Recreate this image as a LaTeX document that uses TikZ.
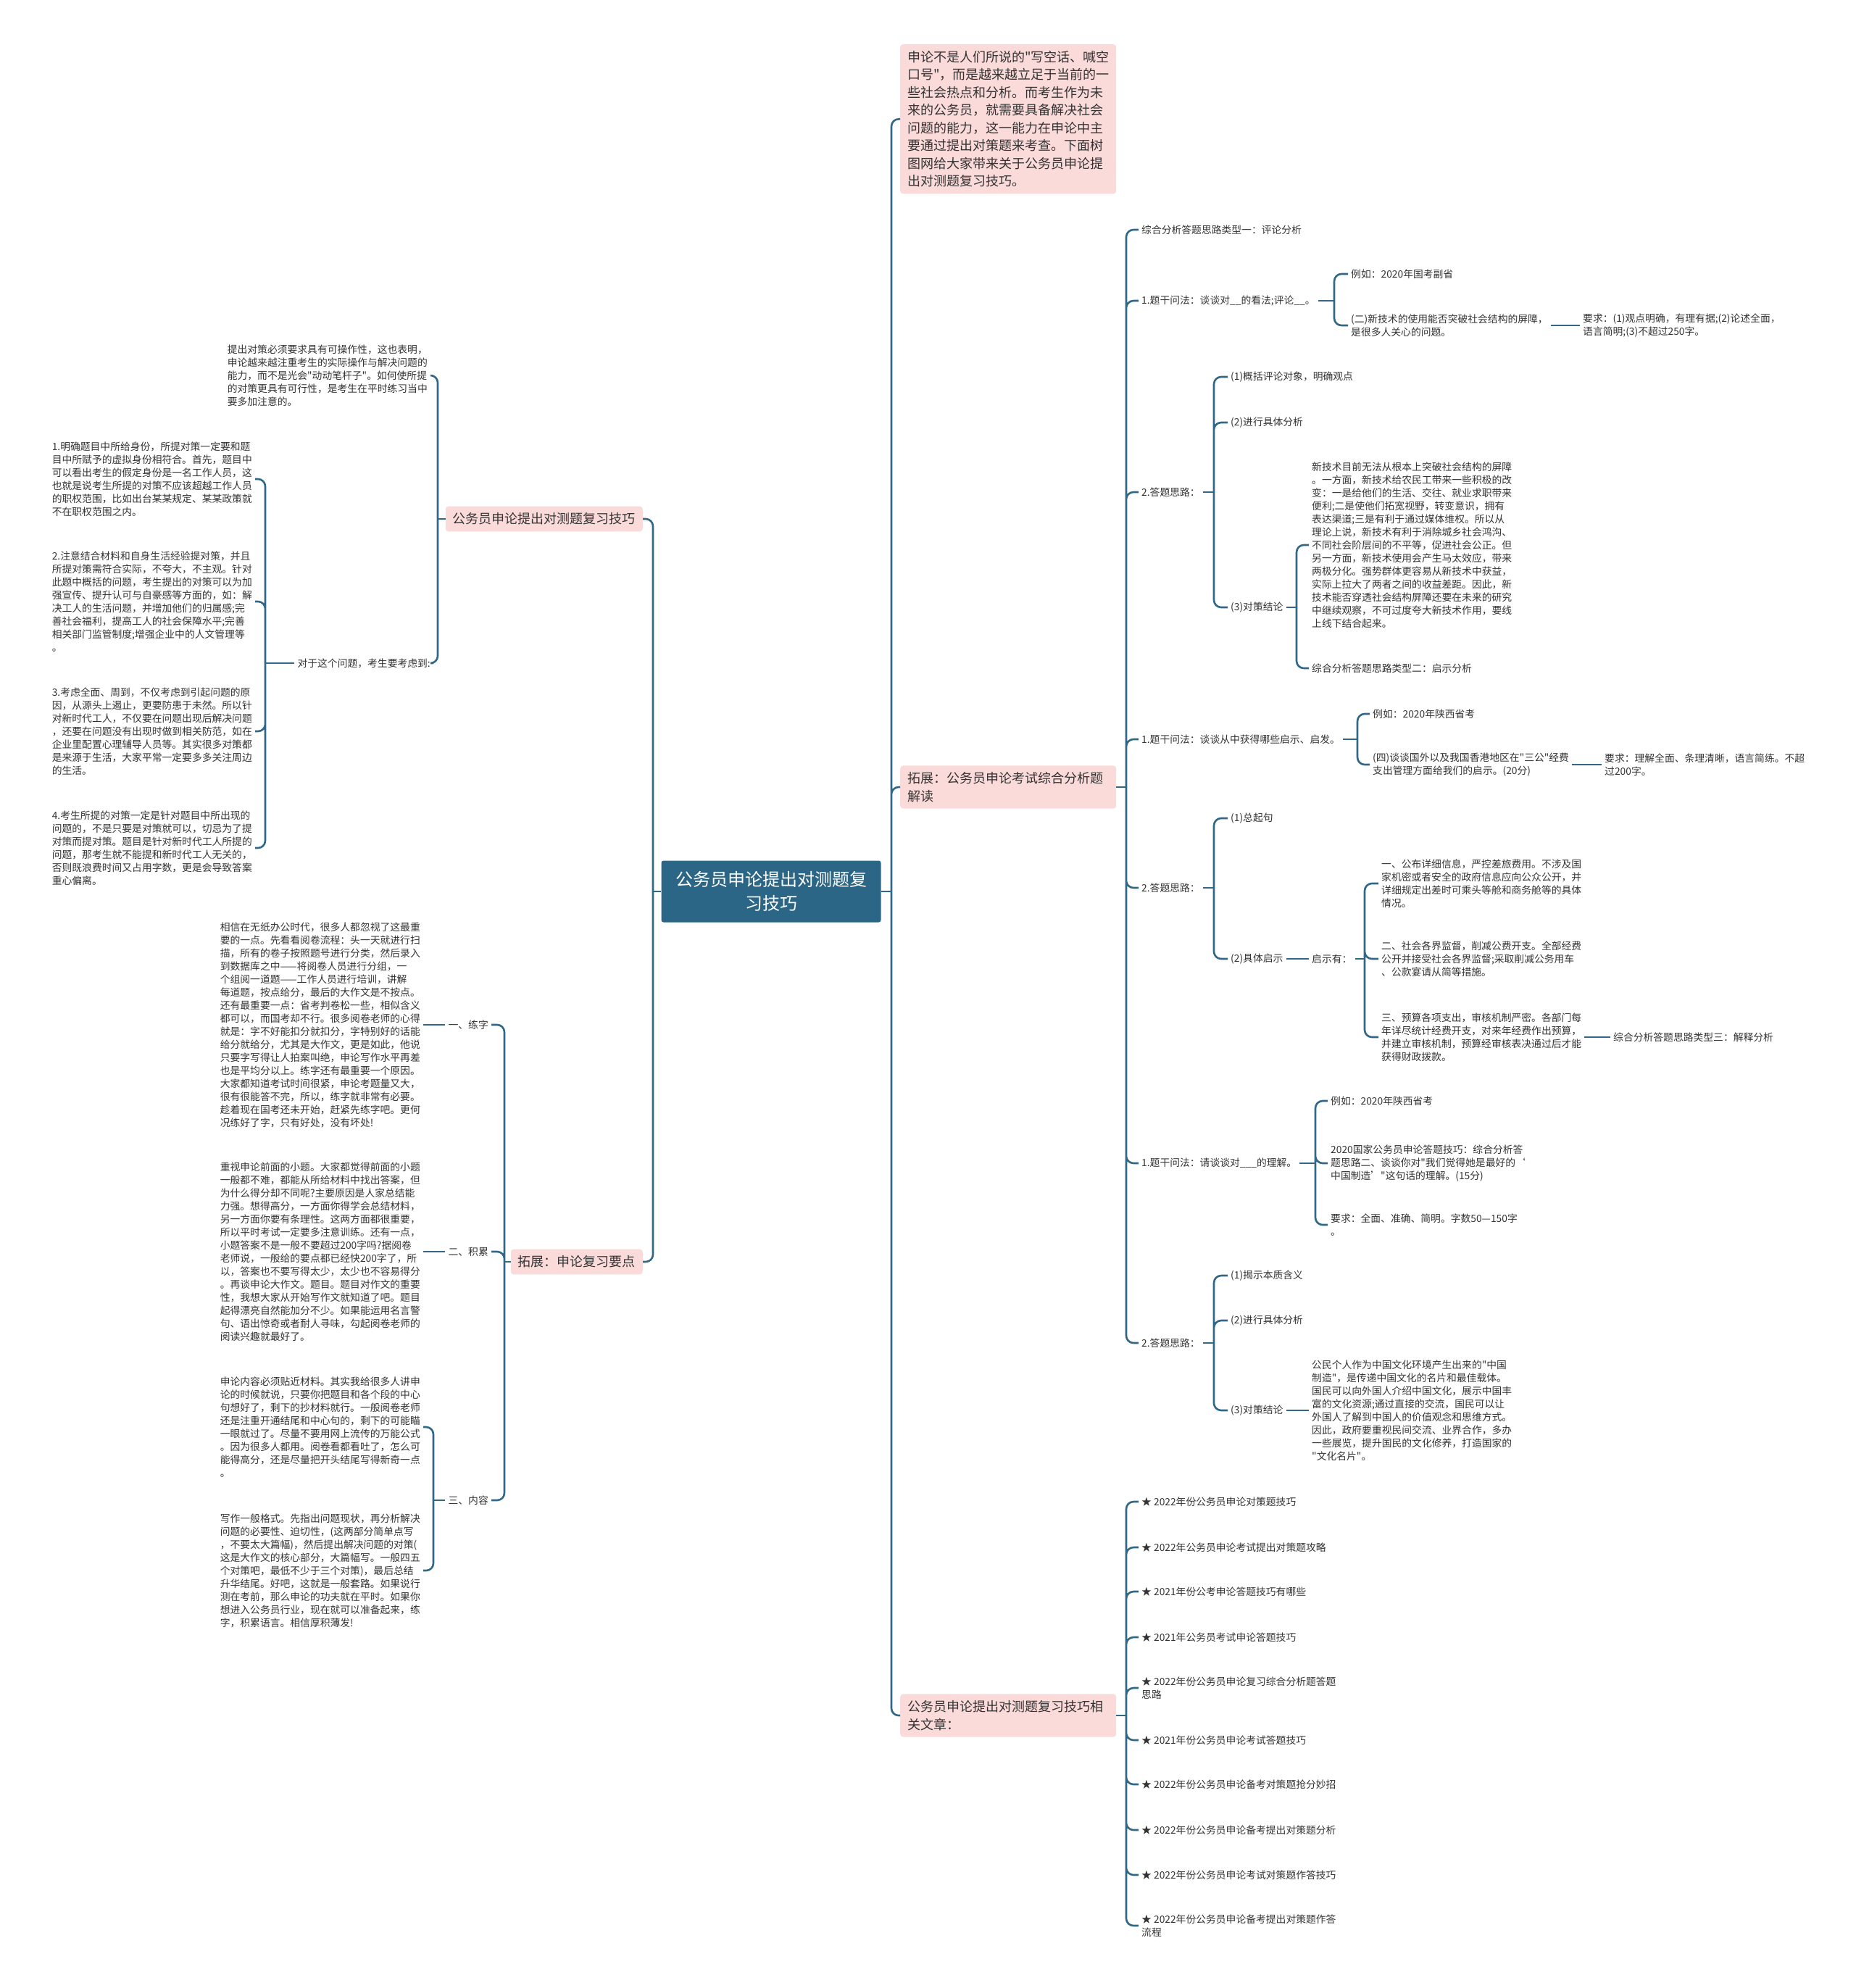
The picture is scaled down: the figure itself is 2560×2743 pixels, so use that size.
\documentclass[tikz,border=0pt]{standalone}
\usepackage{fontspec}
\setmainfont{Noto Sans CJK SC}[Ligatures=TeXOff]
\usepackage{tikz}

\definecolor{linec}{RGB}{49,104,135}
\definecolor{rootc}{RGB}{44,102,134}
\definecolor{pinkc}{RGB}{251,218,218}
\definecolor{txtc}{RGB}{51,51,51}

\begin{document}
\begin{tikzpicture}[x=1pt,y=-1pt,
  conn/.style={draw=linec,line width=2.6pt,rounded corners=10pt},
  rootbox/.style={fill=rootc,text=white,rounded corners=3pt,align=center,
    minimum width=303pt,minimum height=85pt,font=\fontsize{24}{33}\selectfont},
  pinkbox/.style={fill=pinkc,text=txtc,rounded corners=4pt,align=left,
    inner xsep=10pt,inner ysep=9pt,font=\fontsize{18}{24.5}\selectfont},
  lbl/.style={text=txtc,align=left,inner xsep=4pt,inner ysep=2pt,
    font=\fontsize{13.8}{18}\selectfont}]

\useasboundingbox (0,0) rectangle (2560,2743);
\fill[white] (0,0) rectangle (2560,2743);

% ===== Centre =====
\node[rootbox] (root) at (1064,1230) {公务员申论提出对测题复\\习技巧};

% ===== Branches de droite =====
\node[pinkbox,text width=278pt,anchor=north west] (intro) at (1242,61)
  {申论不是人们所说的"写空话、喊空\\口号"，而是越来越立足于当前的一\\些社会热点和分析。而考生作为未\\来的公务员，就需要具备解决社会\\问题的能力，这一能力在申论中主\\要通过提出对策题来考查。下面树\\图网给大家带来关于公务员申论提\\出对测题复习技巧。};
\node[pinkbox,text width=278pt,anchor=west] (zhfx) at (1242,1086) {拓展：公务员申论考试综合分析题\\解读};
\node[pinkbox,text width=278pt,anchor=west] (xgwz) at (1242,2367) {公务员申论提出对测题复习技巧相\\关文章：};

\coordinate (rootR) at (1230,1230);
\draw[conn] (root) -- (rootR);
\draw[conn] (rootR) |- (intro) (rootR) |- (zhfx) (rootR) |- (xgwz);

% ===== Branches de gauche =====
\node[pinkbox,anchor=east] (jqbox) at (887,716) {公务员申论提出对测题复习技巧};
\node[pinkbox,anchor=east] (ydbox) at (887,1741) {拓展：申论复习要点};

\coordinate (rootL) at (901,1230);
\draw[conn] (root) -- (rootL);
\draw[conn] (rootL) |- (jqbox) (rootL) |- (ydbox);

% ---- 复习技巧 ----
\node[lbl,anchor=east] (p0) at (594,518)
  {提出对策必须要求具有可操作性，这也表明，\\申论越来越注重考生的实际操作与解决问题的\\能力，而不是光会"动动笔杆子"。如何使所提\\的对策更具有可行性，是考生在平时练习当中\\要多加注意的。};
\node[lbl,anchor=east] (kl) at (598,915) {对于这个问题，考生要考虑到:};
\coordinate (jqJ) at (604,716);
\draw[conn] (jqbox) -- (jqJ);
\draw[conn] (jqJ) |- (p0) (jqJ) |- (kl);

\node[lbl,anchor=east] (p1) at (352,661)
  {1.明确题目中所给身份，所提对策一定要和题\\目中所赋予的虚拟身份相符合。首先，题目中\\可以看出考生的假定身份是一名工作人员，这\\也就是说考生所提的对策不应该超越工作人员\\的职权范围，比如出台某某规定、某某政策就\\不在职权范围之内。};
\node[lbl,anchor=east] (p2) at (352,830)
  {2.注意结合材料和自身生活经验提对策，并且\\所提对策需符合实际，不夸大，不主观。针对\\此题中概括的问题，考生提出的对策可以为加\\强宣传、提升认可与自豪感等方面的，如：解\\决工人的生活问题，并增加他们的归属感;完\\善社会福利，提高工人的社会保障水平;完善\\相关部门监管制度;增强企业中的人文管理等\\。};
\node[lbl,anchor=east] (p3) at (352,1009)
  {3.考虑全面、周到，不仅考虑到引起问题的原\\因，从源头上遏止，更要防患于未然。所以针\\对新时代工人，不仅要在问题出现后解决问题\\，还要在问题没有出现时做到相关防范，如在\\企业里配置心理辅导人员等。其实很多对策都\\是来源于生活，大家平常一定要多多关注周边\\的生活。};
\node[lbl,anchor=east] (p4) at (352,1170)
  {4.考生所提的对策一定是针对题目中所出现的\\问题的，不是只要是对策就可以，切忌为了提\\对策而提对策。题目是针对新时代工人所提的\\问题，那考生就不能提和新时代工人无关的，\\否则既浪费时间又占用字数，更是会导致答案\\重心偏离。};
\coordinate (klJ) at (366,915);
\draw[conn] (kl) -- (klJ);
\draw[conn] (klJ) |- (p1) (klJ) |- (p2) (klJ) |- (p3) (klJ) |- (p4);

% ---- 复习要点 ----
\node[lbl,anchor=east] (lz) at (678,1414) {一、练字};
\node[lbl,anchor=east] (jl) at (678,1727) {二、积累};
\node[lbl,anchor=east] (nr) at (678,2070) {三、内容};
\coordinate (ydJ) at (696,1741);
\draw[conn] (ydbox) -- (ydJ);
\draw[conn] (ydJ) |- (lz) (ydJ) |- (jl) (ydJ) |- (nr);

\node[lbl,anchor=east] (lzp) at (584,1414)
  {相信在无纸办公时代，很多人都忽视了这最重\\要的一点。先看看阅卷流程：头一天就进行扫\\描，所有的卷子按照题号进行分类，然后录入\\到数据库之中——将阅卷人员进行分组，一\\个组阅一道题——工作人员进行培训，讲解\\每道题，按点给分，最后的大作文是不按点。\\还有最重要一点：省考判卷松一些，相似含义\\都可以，而国考却不行。很多阅卷老师的心得\\就是：字不好能扣分就扣分，字特别好的话能\\给分就给分，尤其是大作文，更是如此，他说\\只要字写得让人拍案叫绝，申论写作水平再差\\也是平均分以上。练字还有最重要一个原因。\\大家都知道考试时间很紧，申论考题量又大，\\很有很能答不完，所以，练字就非常有必要。\\趁着现在国考还未开始，赶紧先练字吧。更何\\况练好了字，只有好处，没有坏处!};
\draw[conn] (lz) -- (lzp);

\node[lbl,anchor=east] (jlp) at (584,1727)
  {重视申论前面的小题。大家都觉得前面的小题\\一般都不难，都能从所给材料中找出答案，但\\为什么得分却不同呢?主要原因是人家总结能\\力强。想得高分，一方面你得学会总结材料，\\另一方面你要有条理性。这两方面都很重要，\\所以平时考试一定要多注意训练。还有一点，\\小题答案不是一般不要超过200字吗?据阅卷\\老师说，一般给的要点都已经快200字了，所\\以，答案也不要写得太少，太少也不容易得分\\。再谈申论大作文。题目。题目对作文的重要\\性，我想大家从开始写作文就知道了吧。题目\\起得漂亮自然能加分不少。如果能运用名言警\\句、语出惊奇或者耐人寻味，勾起阅卷老师的\\阅读兴趣就最好了。};
\draw[conn] (jl) -- (jlp);

\node[lbl,anchor=east] (nrp1) at (584,1969)
  {申论内容必须贴近材料。其实我给很多人讲申\\论的时候就说，只要你把题目和各个段的中心\\句想好了，剩下的抄材料就行。一般阅卷老师\\还是注重开通结尾和中心句的，剩下的可能瞄\\一眼就过了。尽量不要用网上流传的万能公式\\。因为很多人都用。阅卷看都看吐了，怎么可\\能得高分，还是尽量把开头结尾写得新奇一点\\。};
\node[lbl,anchor=east] (nrp2) at (584,2167)
  {写作一般格式。先指出问题现状，再分析解决\\问题的必要性、迫切性，(这两部分简单点写\\，不要太大篇幅)，然后提出解决问题的对策(\\这是大作文的核心部分，大篇幅写。一般四五\\个对策吧，最低不少于三个对策)，最后总结\\升华结尾。好吧，这就是一般套路。如果说行\\测在考前，那么申论的功夫就在平时。如果你\\想进入公务员行业，现在就可以准备起来，练\\字，积累语言。相信厚积薄发!};
\coordinate (nrJ) at (598,2070);
\draw[conn] (nr) -- (nrJ);
\draw[conn] (nrJ) |- (nrp1) (nrJ) |- (nrp2);

% ===== 综合分析题解读 =====
\node[lbl,anchor=west] (t1) at (1571,317) {综合分析答题思路类型一：评论分析};
\node[lbl,anchor=west] (q1) at (1571,415) {1.题干问法：谈谈对\_\_的看法;评论\_\_。};
\node[lbl,anchor=west] (s1) at (1571,679) {2.答题思路：};
\node[lbl,anchor=west] (q2) at (1571,1020) {1.题干问法：谈谈从中获得哪些启示、启发。};
\node[lbl,anchor=west] (s2) at (1571,1225) {2.答题思路：};
\node[lbl,anchor=west] (q3) at (1571,1605) {1.题干问法：请谈谈对\_\_\_的理解。};
\node[lbl,anchor=west] (s3) at (1571,1853) {2.答题思路：};
\coordinate (zhJ) at (1554,1086);
\draw[conn] (zhfx) -- (zhJ);
\draw[conn] (zhJ) |- (t1) (zhJ) |- (q1) (zhJ) |- (s1) (zhJ) |- (q2)
  (zhJ) |- (s2) (zhJ) |- (q3) (zhJ) |- (s3);

% ---- 类型一 ----
\node[lbl,anchor=west] (q1a) at (1860,378) {例如：2020年国考副省};
\node[lbl,anchor=west] (q1b) at (1860,449) {(二)新技术的使用能否突破社会结构的屏障，\\是很多人关心的问题。};
\node[lbl,anchor=west] (q1c) at (2180,449) {要求：(1)观点明确，有理有据;(2)论述全面，\\语言简明;(3)不超过250字。};
\coordinate (q1J) at (1841,415);
\draw[conn] (q1) -- (q1J);
\draw[conn] (q1J) |- (q1a) (q1J) |- (q1b);
\draw[conn] (q1b) -- (q1c);

\node[lbl,anchor=west] (s1a) at (1694,520) {(1)概括评论对象，明确观点};
\node[lbl,anchor=west] (s1b) at (1694,583) {(2)进行具体分析};
\node[lbl,anchor=west] (s1c) at (1694,838) {(3)对策结论};
\coordinate (s1J) at (1675,679);
\draw[conn] (s1) -- (s1J);
\draw[conn] (s1J) |- (s1a) (s1J) |- (s1b) (s1J) |- (s1c);

\node[lbl,anchor=west] (s1d) at (1806,752)
  {新技术目前无法从根本上突破社会结构的屏障\\。一方面，新技术给农民工带来一些积极的改\\变：一是给他们的生活、交往、就业求职带来\\便利;二是使他们拓宽视野，转变意识，拥有\\表达渠道;三是有利于通过媒体维权。所以从\\理论上说，新技术有利于消除城乡社会鸿沟、\\不同社会阶层间的不平等，促进社会公正。但\\另一方面，新技术使用会产生马太效应，带来\\两极分化。强势群体更容易从新技术中获益，\\实际上拉大了两者之间的收益差距。因此，新\\技术能否穿透社会结构屏障还要在未来的研究\\中继续观察，不可过度夸大新技术作用，要线\\上线下结合起来。};
\node[lbl,anchor=west] (s1e) at (1806,922) {综合分析答题思路类型二：启示分析};
\coordinate (s1cJ) at (1789,838);
\draw[conn] (s1c) -- (s1cJ);
\draw[conn] (s1cJ) |- (s1d) (s1cJ) |- (s1e);

% ---- 类型二 ----
\node[lbl,anchor=west] (q2a) at (1890,985) {例如：2020年陕西省考};
\node[lbl,anchor=west] (q2b) at (1890,1055) {(四)谈谈国外以及我国香港地区在"三公"经费\\支出管理方面给我们的启示。(20分)};
\node[lbl,anchor=west] (q2c) at (2210,1055) {要求：理解全面、条理清晰，语言简练。不超\\过200字。};
\coordinate (q2J) at (1873,1020);
\draw[conn] (q2) -- (q2J);
\draw[conn] (q2J) |- (q2a) (q2J) |- (q2b);
\draw[conn] (q2b) -- (q2c);

\node[lbl,anchor=west] (s2a) at (1694,1129) {(1)总起句};
\node[lbl,anchor=west] (s2b) at (1694,1323) {(2)具体启示};
\node[lbl,anchor=west] (s2c) at (1806,1323) {启示有：};
\coordinate (s2J) at (1675,1225);
\draw[conn] (s2) -- (s2J);
\draw[conn] (s2J) |- (s2a) (s2J) |- (s2b);
\draw[conn] (s2b) -- (s2c);

\node[lbl,anchor=west] (s2d) at (1902,1219) {一、公布详细信息，严控差旅费用。不涉及国\\家机密或者安全的政府信息应向公众公开，并\\详细规定出差时可乘头等舱和商务舱等的具体\\情况。};
\node[lbl,anchor=west] (s2e) at (1902,1323) {二、社会各界监督，削减公费开支。全部经费\\公开并接受社会各界监督;采取削减公务用车\\、公款宴请从简等措施。};
\node[lbl,anchor=west] (s2f) at (1902,1431) {三、预算各项支出，审核机制严密。各部门每\\年详尽统计经费开支，对来年经费作出预算，\\并建立审核机制，预算经审核表决通过后才能\\获得财政拨款。};
\node[lbl,anchor=west] (s2g) at (2222,1431) {综合分析答题思路类型三：解释分析};
\coordinate (s2cJ) at (1883,1323);
\draw[conn] (s2c) -- (s2cJ);
\draw[conn] (s2cJ) |- (s2d) (s2cJ) |- (s2e) (s2cJ) |- (s2f);
\draw[conn] (s2f) -- (s2g);

% ---- 类型三 ----
\node[lbl,anchor=west] (q3a) at (1832,1519) {例如：2020年陕西省考};
\node[lbl,anchor=west] (q3b) at (1832,1605) {2020国家公务员申论答题技巧：综合分析答\\题思路二、谈谈你对"我们觉得她是最好的‘\\中国制造’"这句话的理解。(15分)};
\node[lbl,anchor=west] (q3c) at (1832,1690) {要求：全面、准确、简明。字数50—150字\\。};
\coordinate (q3J) at (1815,1605);
\draw[conn] (q3) -- (q3J);
\draw[conn] (q3J) |- (q3a) (q3J) |- (q3b) (q3J) |- (q3c);

\node[lbl,anchor=west] (s3a) at (1694,1760) {(1)揭示本质含义};
\node[lbl,anchor=west] (s3b) at (1694,1822) {(2)进行具体分析};
\node[lbl,anchor=west] (s3c) at (1694,1946) {(3)对策结论};
\coordinate (s3J) at (1675,1853);
\draw[conn] (s3) -- (s3J);
\draw[conn] (s3J) |- (s3a) (s3J) |- (s3b) (s3J) |- (s3c);

\node[lbl,anchor=west] (s3d) at (1806,1946)
  {公民个人作为中国文化环境产生出来的"中国\\制造"，是传递中国文化的名片和最佳载体。\\国民可以向外国人介绍中国文化，展示中国丰\\富的文化资源;通过直接的交流，国民可以让\\外国人了解到中国人的价值观念和思维方式。\\因此，政府要重视民间交流、业界合作，多办\\一些展览，提升国民的文化修养，打造国家的\\"文化名片"。};
\draw[conn] (s3c) -- (s3d);

% ===== 相关文章 =====
\node[lbl,anchor=west] (w1) at (1571,2072) {★ 2022年份公务员申论对策题技巧};
\node[lbl,anchor=west] (w2) at (1571,2135) {★ 2022年公务员申论考试提出对策题攻略};
\node[lbl,anchor=west] (w3) at (1571,2196) {★ 2021年份公考申论答题技巧有哪些};
\node[lbl,anchor=west] (w4) at (1571,2259) {★ 2021年公务员考试申论答题技巧};
\node[lbl,anchor=west] (w5) at (1571,2329) {★ 2022年份公务员申论复习综合分析题答题\\思路};
\node[lbl,anchor=west] (w6) at (1571,2401) {★ 2021年份公务员申论考试答题技巧};
\node[lbl,anchor=west] (w7) at (1571,2462) {★ 2022年份公务员申论备考对策题抢分妙招};
\node[lbl,anchor=west] (w8) at (1571,2525) {★ 2022年份公务员申论备考提出对策题分析};
\node[lbl,anchor=west] (w9) at (1571,2587) {★ 2022年份公务员申论考试对策题作答技巧};
\node[lbl,anchor=west] (w10) at (1571,2657) {★ 2022年份公务员申论备考提出对策题作答\\流程};
\coordinate (xgJ) at (1554,2367);
\draw[conn] (xgwz) -- (xgJ);
\draw[conn] (xgJ) |- (w1) (xgJ) |- (w2) (xgJ) |- (w3) (xgJ) |- (w4) (xgJ) |- (w5)
  (xgJ) |- (w6) (xgJ) |- (w7) (xgJ) |- (w8) (xgJ) |- (w9) (xgJ) |- (w10);

\end{tikzpicture}
\end{document}
